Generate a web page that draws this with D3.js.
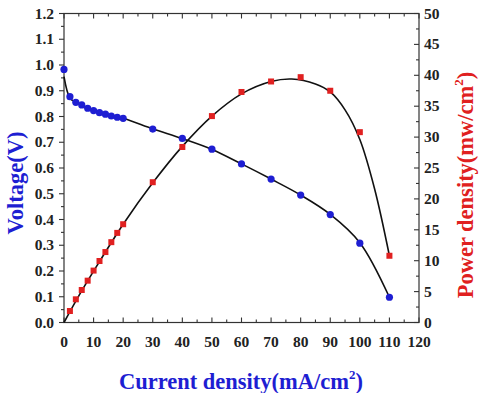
<!DOCTYPE html>
<html><head><meta charset="utf-8">
<script src="https://cdn.jsdelivr.net/npm/d3@7"></script>
<style>body{margin:0;background:#fff}svg{display:block}text{font-family:"Liberation Serif","Times New Roman",serif;font-weight:bold}</style>
</head><body>
<svg id="c" width="480" height="393"></svg>
<script>
// Data
const currentV = [0, 2, 4, 6, 8, 10, 12, 14, 16, 18, 20, 30, 40, 50, 60, 70, 80, 90, 100, 110];
const voltage  = [0.983, 0.877, 0.855, 0.845, 0.832, 0.823, 0.815, 0.809, 0.802, 0.797, 0.793, 0.751, 0.715, 0.673, 0.616, 0.557, 0.495, 0.419, 0.308, 0.098];
const currentP = [2, 4, 6, 8, 10, 12, 14, 16, 18, 20, 30, 40, 50, 60, 70, 80, 90, 100, 110];
const power    = [1.86, 3.75, 5.26, 6.77, 8.4, 9.95, 11.4, 13.0, 14.5, 15.9, 22.7, 28.4, 33.4, 37.3, 39.0, 39.7, 37.5, 30.8, 10.8];
// fitted curves
const fitVx = [0, 2, 4, 10, 20, 30, 40, 50, 60, 70, 80, 90, 100, 110];
const fitVy = [0.955, 0.872, 0.855, 0.823, 0.793, 0.752, 0.714, 0.672, 0.616, 0.557, 0.495, 0.42, 0.31, 0.098];
const fitPx = [0, 5, 10, 20, 30, 40, 50, 60, 70, 77, 85, 90, 95, 100, 105, 110];
const fitPy = [0, 4.3, 8.3, 15.9, 22.6, 28.5, 33.4, 37.0, 39.0, 39.4, 38.6, 37.3, 34.4, 29.6, 21.6, 10.8];
const xTicks = d3.range(0, 121, 10);
const vTicks = d3.range(0, 1.21, 0.1);
const pTicks = d3.range(0, 51, 5);

const svg = d3.select("#c");
const L = 64, R = 419, T = 13.5, B = 322.5;
const x = d3.scaleLinear().domain([0, 120]).range([L, R]);
const yV = d3.scaleLinear().domain([0, 1.2]).range([B, T]);
const yP = d3.scaleLinear().domain([0, 50]).range([B, T]);
const blue = "#1e1ed2", red = "#e02020";

// frame
svg.append("rect").attr("x", L).attr("y", T).attr("width", R - L).attr("height", B - T)
  .attr("fill", "none").attr("stroke", "#333").attr("stroke-width", 1.2);

const g = svg.append("g").attr("stroke", "#333").attr("stroke-width", 1.1);
// x ticks (bottom & top, inward)
d3.range(0, 121, 5).forEach(v => {
  const len = v % 10 === 0 ? 5 : 3;
  g.append("line").attr("x1", x(v)).attr("x2", x(v)).attr("y1", B).attr("y2", B - len);
  g.append("line").attr("x1", x(v)).attr("x2", x(v)).attr("y1", T).attr("y2", T + len);
});
// left ticks (outward)
d3.range(0, 25).forEach(i => {
  const v = i * 0.05, len = i % 2 === 0 ? 5 : 3;
  g.append("line").attr("x1", L).attr("x2", L - len).attr("y1", yV(v)).attr("y2", yV(v));
});
// right ticks (inward)
d3.range(0, 21).forEach(i => {
  const v = i * 2.5, len = i % 2 === 0 ? 5 : 3;
  g.append("line").attr("x1", R).attr("x2", R - len).attr("y1", yP(v)).attr("y2", yP(v));
});

// tick labels
svg.append("g").selectAll("text").data(xTicks).join("text")
  .attr("x", d => x(d)).attr("y", 347).attr("text-anchor", "middle")
  .attr("font-size", 15.5).attr("fill", "#222").text(d => d);
svg.append("g").selectAll("text").data(vTicks).join("text")
  .attr("x", 54).attr("y", d => yV(d) + 5).attr("text-anchor", "end")
  .attr("font-size", 15.5).attr("fill", "#222").text(d => d3.format(".1f")(d));
svg.append("g").selectAll("text").data(pTicks).join("text")
  .attr("x", 424).attr("y", d => yP(d) + 5).attr("text-anchor", "start")
  .attr("font-size", 15.5).attr("fill", "#222").text(d => d);

// fit lines
const lineV = d3.line().x(d => x(d[0])).y(d => yV(d[1])).curve(d3.curveCatmullRom);
const lineP = d3.line().x(d => x(d[0])).y(d => yP(d[1])).curve(d3.curveCatmullRom);
svg.append("path").attr("d", lineV(d3.zip(fitVx, fitVy))).attr("fill", "none").attr("stroke", "#111").attr("stroke-width", 1.6);
svg.append("path").attr("d", lineP(d3.zip(fitPx, fitPy))).attr("fill", "none").attr("stroke", "#111").attr("stroke-width", 1.6);

// markers
svg.append("g").selectAll("circle").data(d3.zip(currentV, voltage)).join("circle")
  .attr("cx", d => x(d[0])).attr("cy", d => yV(d[1])).attr("r", 3.6).attr("fill", blue);
svg.append("g").selectAll("rect").data(d3.zip(currentP, power)).join("rect")
  .attr("x", d => x(d[0]) - 3).attr("y", d => yP(d[1]) - 3).attr("width", 6).attr("height", 6).attr("fill", red);

// axis titles
const xt = svg.append("text").attr("x", 241).attr("y", 389).attr("text-anchor", "middle")
  .attr("font-size", 22.5).attr("fill", blue);
xt.append("tspan").text("Current density(mA/cm");
xt.append("tspan").attr("font-size", 13).attr("dy", -10).text("2");
xt.append("tspan").attr("dy", 10).text(")");

svg.append("text").attr("transform", "translate(23,183) rotate(-90)").attr("text-anchor", "middle")
  .attr("font-size", 22.5).attr("fill", blue).text("Voltage(V)");

const yt = svg.append("text").attr("transform", "translate(473,185) rotate(-90)").attr("text-anchor", "middle")
  .attr("font-size", 22.5).attr("fill", red);
yt.append("tspan").text("Power density(mw/cm");
yt.append("tspan").attr("font-size", 13).attr("dy", -10).text("2");
yt.append("tspan").attr("dy", 10).text(")");
</script>
</body></html>
